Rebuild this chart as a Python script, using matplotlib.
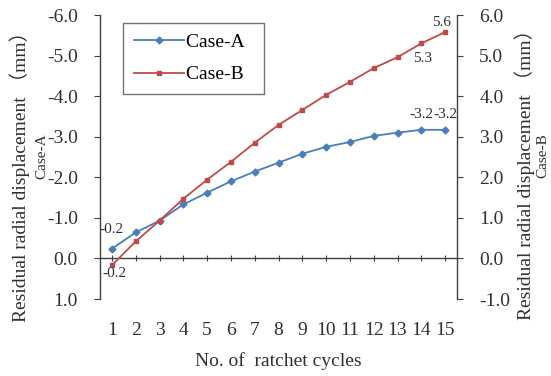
import matplotlib.pyplot as plt
import numpy as np

plt.rcParams['font.family'] = ['Liberation Serif', 'Noto Sans CJK SC']
plt.rcParams['axes.unicode_minus'] = False

cycles = list(range(1, 16))
case_a = [-0.24, -0.64, -0.93, -1.33, -1.62, -1.90, -2.14, -2.36, -2.58, -2.75,
          -2.87, -3.02, -3.10, -3.17, -3.17]
case_b = [-0.17, 0.42, 0.93, 1.47, 1.94, 2.38, 2.85, 3.29, 3.66, 4.03,
          4.35, 4.69, 4.96, 5.30, 5.58]
left_ticks = [-6.0, -5.0, -4.0, -3.0, -2.0, -1.0, 0.0, 1.0]
right_ticks = [-1.0, 0.0, 1.0, 2.0, 3.0, 4.0, 5.0, 6.0]

blue = '#4A7EBB'
red = '#BE4B48'
axis_col = '#404040'

fig = plt.figure(figsize=(5.51, 3.76), dpi=100)
ax = fig.add_axes([100/551, 1-299/376, 357/551, 284/376])
ax2 = ax.twinx()

la, = ax.plot(cycles, case_a, color=blue, lw=1.3, marker='D', ms=3.5, label='Case-A')
lb, = ax2.plot(cycles, case_b, color=red, lw=1.3, marker='s', ms=3.5, label='Case-B')

ax.set_xlim(0.5, 15.5)
ax.set_ylim(1.0, -6.0)
ax2.set_ylim(-1.0, 6.0)
ax.set_yticks(left_ticks)
ax.set_yticklabels(['%.1f' % v for v in left_ticks])
ax2.set_yticks(right_ticks)
ax2.set_yticklabels(['%.1f' % v for v in right_ticks])

for s in ['top', 'right']:
    ax.spines[s].set_visible(False)
for s in ['top', 'bottom', 'left']:
    ax2.spines[s].set_visible(False)
ax.spines['bottom'].set_position(('data', 0))
for s in [ax.spines['left'], ax.spines['bottom'], ax2.spines['right']]:
    s.set_color(axis_col)
    s.set_linewidth(1)

ax.set_xticks(cycles)
ax.set_xticklabels([str(c) for c in cycles])
ax.tick_params(axis='x', direction='inout', length=5, pad=43, labelsize=14,
               color=axis_col, labelcolor='#303030')
ax.tick_params(axis='y', direction='out', length=4, labelsize=14, pad=12,
               color=axis_col, labelcolor='#303030')
ax2.tick_params(axis='y', direction='out', length=4, labelsize=14, pad=12,
                color=axis_col, labelcolor='#303030')
ax2.tick_params(axis='x', bottom=False, labelbottom=False)
ax.set_xlabel('No. of  ratchet cycles', fontsize=14, labelpad=10, color='#303030')

# y labels, two lines each side
fig.text(20/551, 1-172/376, 'Residual radial displacement （mm）', rotation=90,
         ha='center', va='center', fontsize=14, color='#303030')
fig.text(42/551, 1-156/376, 'Case-A', rotation=90, ha='center', va='center',
         fontsize=11, color='#303030')
fig.text(525/551, 1-170/376, 'Residual radial displacement （mm）', rotation=90,
         ha='center', va='center', fontsize=14, color='#303030')
fig.text(543/551, 1-156/376, 'Case-B', rotation=90, ha='center', va='center',
         fontsize=11, color='#303030')

# data labels
lab_kw = dict(textcoords='offset pixels', ha='center', va='center', fontsize=11,
              color='#303030')
ax.annotate('-0.2', (cycles[0], case_a[0]), xytext=(0, 19), **lab_kw)
ax.annotate('-3.2', (cycles[13], case_a[13]), xytext=(0, 15), **lab_kw)
ax.annotate('-3.2', (cycles[14], case_a[14]), xytext=(0, 15), **lab_kw)
ax2.annotate('-0.2', (cycles[0], case_b[0]), xytext=(3, -8), **lab_kw)
ax2.annotate('5.3', (cycles[13], case_b[13]), xytext=(1, -15), **lab_kw)
ax2.annotate('5.6', (cycles[14], case_b[14]), xytext=(-4, 10), **lab_kw)

leg = ax.legend(handles=[la, lb], labels=['Case-A  ', 'Case-B  '], loc='upper left',
                bbox_to_anchor=(0.064, 0.972), borderaxespad=0, fontsize=14,
                frameon=True, fancybox=False, edgecolor='#505050',
                handlelength=2.6, handletextpad=0.1, borderpad=0.55,
                labelspacing=0.75)
leg.get_frame().set_linewidth(1)
leg.set_zorder(5)

fig.savefig('out.png', dpi=100)
